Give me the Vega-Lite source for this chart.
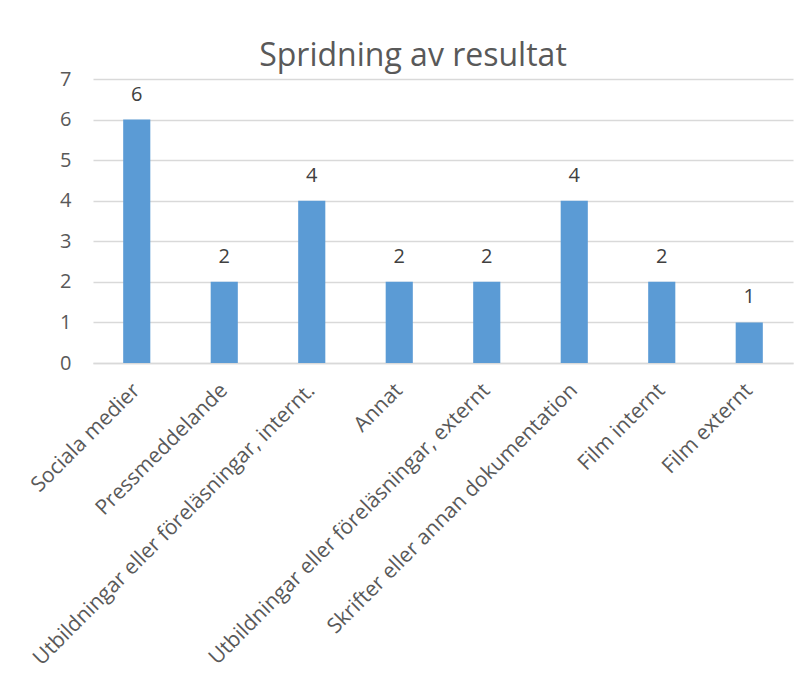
{
  "$schema": "https://vega.github.io/schema/vega-lite/v6.json",
  "width": 700,
  "height": 284,
  "autosize": {"type": "none"},
  "padding": {"left": 93, "top": 79, "right": 15, "bottom": 310},
  "background": "white",
  "title": {
    "text": "Spridning av resultat",
    "font": "Open Sans",
    "fontSize": 32,
    "fontWeight": "normal",
    "color": "#595959",
    "anchor": "middle",
    "dx": -30,
    "offset": -4
  },
  "config": {
    "view": {"stroke": null},
    "font": "Open Sans"
  },
  "data": {
    "values": [
      {"kategori": "Sociala medier", "antal": 6},
      {"kategori": "Pressmeddelande", "antal": 2},
      {"kategori": "Utbildningar eller föreläsningar, internt.", "antal": 4},
      {"kategori": "Annat", "antal": 2},
      {"kategori": "Utbildningar eller föreläsningar, externt", "antal": 2},
      {"kategori": "Skrifter eller annan dokumentation", "antal": 4},
      {"kategori": "Film internt", "antal": 2},
      {"kategori": "Film externt", "antal": 1}
    ]
  },
  "encoding": {
    "x": {
      "field": "kategori",
      "type": "nominal",
      "sort": null,
      "scale": {"paddingInner": 0.69, "paddingOuter": 0.345},
      "axis": {
        "title": null,
        "labelAngle": -45,
        "labelAlign": "right",
        "labelBaseline": "middle",
        "labelFont": "Open Sans",
        "labelFontSize": 21,
        "labelColor": "#595959",
        "labelPadding": 24,
        "labelLimit": 0,
        "labelOverlap": false,
        "ticks": false,
        "domainColor": "#D9D9D9",
        "domainWidth": 1.5
      }
    },
    "y": {
      "field": "antal",
      "type": "quantitative",
      "scale": {"domain": [0, 7], "nice": false},
      "axis": {
        "title": null,
        "values": [0, 1, 2, 3, 4, 5, 6, 7],
        "labelOverlap": false,
        "domain": false,
        "ticks": false,
        "labelFont": "Open Sans",
        "labelFontSize": 20,
        "labelColor": "#595959",
        "labelPadding": 22,
        "gridColor": "#D9D9D9",
        "gridWidth": 1.5
      }
    }
  },
  "layer": [
    {"mark": {"type": "bar", "color": "#5B9BD5"}},
    {
      "mark": {"type": "text", "dy": -25, "fontSize": 20, "color": "#404040", "font": "Open Sans"},
      "encoding": {"text": {"field": "antal", "type": "quantitative"}}
    }
  ]
}
